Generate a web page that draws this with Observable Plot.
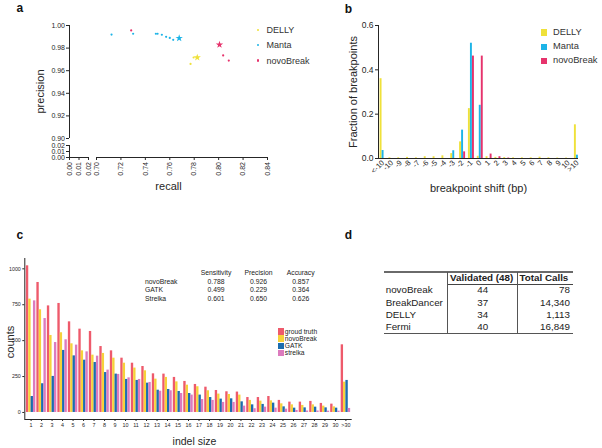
<!DOCTYPE html>
<html>
<head>
<meta charset="utf-8">
<script src="https://cdn.jsdelivr.net/npm/d3@7"></script>
<script src="https://cdn.jsdelivr.net/npm/@observablehq/plot@0.6"></script>
<style>
html,body{margin:0;padding:0;background:#fff;}
#root{position:relative;width:602px;height:448px;overflow:hidden;font-family:"Liberation Sans",Arial,Helvetica,sans-serif;color:#222;}
#root svg{position:absolute;overflow:visible;}
.t{position:absolute;white-space:nowrap;line-height:1;}
.ln{position:absolute;background:#555;}
</style>
</head>
<body>
<div id="root"></div>
<script>
// ---------------- Panel a data ----------------
const aTools = ["DELLY", "Manta", "novoBreak"];
const aColors = ["#EFE13A", "#1DB4E7", "#E6336C"];
const dellyRecall = [0.777, 0.7795];
const dellyPrecision = [0.966, 0.9717];
const mantaRecall = [0.7123, 0.730, 0.7486, 0.750, 0.7535, 0.757, 0.760, 0.7628];
const mantaPrecision = [0.992, 0.9927, 0.9927, 0.9927, 0.9918, 0.990, 0.989, 0.9873];
const novoRecall = [0.7284, 0.8037, 0.8083];
const novoPrecision = [0.9956, 0.9735, 0.969];
const starRecall = [0.7825, 0.7677, 0.8007];      // DELLY, Manta, novoBreak
const starPrecision = [0.9717, 0.9888, 0.983];
const aXTicks = [0, 0.01, 0.02, 0.70, 0.72, 0.74, 0.76, 0.78, 0.80, 0.82, 0.84];
const aYTicks = [0, 0.01, 0.02, 0.90, 0.92, 0.94, 0.96, 0.98, 1.00];
const aXSegments = [[0, 0.02], [0.70, 0.84]];
const aYSegments = [[0, 0.02], [0.90, 1.00]];

// ---------------- Panel b data ----------------
const bShift = ["<-10","-10","-9","-8","-7","-6","-5","-4","-3","-2","-1","0","1","2","3","4","5","6","7","8","9","10",">10"];
const bDelly = [0.36,0.003,0.003,0.005,0.003,0.008,0.008,0.012,0.022,0.075,0.225,0.01,0.008,0.005,0.004,0.003,0.003,0.003,0.006,0.003,0.002,0.002,0.152];
const bManta = [0.036,0,0,0,0,0,0,0,0.035,0.128,0.52,0.24,0,0,0,0,0,0,0,0,0,0,0.015];
const bNovo  = [0,0,0,0,0,0,0,0,0,0.03,0.462,0.462,0.02,0.008,0.002,0,0,0,0,0,0,0,0];
const bYTicks = [0, 0.2, 0.4, 0.6];

// ---------------- Panel c data ----------------
const cSizes = ["1","2","3","4","5","6","7","8","9","10","11","12","13","14","15","16","17","18","19","20","21","22","23","24","25","26","27","28","29","30",">30"];
const cSeries = ["groud truth", "novoBreak", "GATK", "strelka"];
const cColors = ["#EE5A6B", "#F6D23A", "#1B6DAF", "#DC7BBE"];
const cTruth   = [1021,905,742,759,631,580,564,459,429,378,343,320,269,267,244,216,195,176,153,144,142,104,104,111,84,72,72,77,63,58,471];
const cNovo    = [789,715,536,555,478,429,399,411,378,343,309,290,232,244,213,190,179,151,128,125,121,84,79,81,60,53,49,53,44,39,211];
const cGatk    = [111,200,251,432,394,364,348,278,267,230,223,204,155,160,146,132,121,104,93,95,74,53,56,65,39,30,32,37,32,30,223];
const cStrelka = [777,654,487,506,469,422,392,295,265,241,230,209,148,151,132,121,90,84,70,70,44,26,37,30,23,14,10,10,9,9,28];
const cYTicks = [0, 250, 500, 750, 1000];
const cStatHeaders = ["Sensitivity", "Precision", "Accuracy"];
const cStatTools = ["novoBreak", "GATK", "Strelka"];
const cSensitivity = ["0.788", "0.499", "0.601"];
const cPrecision = ["0.926", "0.229", "0.650"];
const cAccuracy = ["0.857", "0.364", "0.626"];

// ---------------- Panel d data ----------------
const dHeaders = ["", "Validated (48)", "Total Calls"];
const dTools = ["novoBreak", "BreakDancer", "DELLY", "Fermi"];
const dValidated = [44, 37, 34, 40];
const dTotal = [78, 14340, 1113, 16849];

// ---------------- helpers ----------------
const FONT = "'Liberation Sans', Arial, Helvetica, sans-serif";
const root = document.getElementById("root");
function put(el, left, top) {
  el.style.position = "absolute"; el.style.left = left + "px"; el.style.top = top + "px";
  root.appendChild(el); return el;
}
function label(txt, x, y, o = {}) {
  const d = document.createElement("div");
  d.className = "t"; d.textContent = txt;
  const ax = o.align === "center" ? "-50%" : o.align === "right" ? "-100%" : "0";
  d.style.left = x + "px"; d.style.top = y + "px";
  d.style.transform = `translate(${ax},-50%)`;
  d.style.fontSize = (o.size || 10) + "px";
  if (o.bold) d.style.fontWeight = "bold";
  d.style.color = o.color || "#222";
  root.appendChild(d); return d;
}
function box(x, y, w, h, color, radius) {
  const d = document.createElement("div");
  d.className = "ln";
  d.style.left = x + "px"; d.style.top = y + "px"; d.style.width = w + "px"; d.style.height = h + "px";
  d.style.background = color;
  if (radius) d.style.borderRadius = radius;
  root.appendChild(d); return d;
}
const baseStyle = {fontFamily: FONT, color: "#262626", background: "transparent", overflow: "visible"};

// ---------------- Panel a ----------------
const aPoints = [
  ...dellyRecall.map((r, i) => ({tool: "DELLY", recall: r, precision: dellyPrecision[i]})),
  ...mantaRecall.map((r, i) => ({tool: "Manta", recall: r, precision: mantaPrecision[i]})),
  ...novoRecall.map((r, i) => ({tool: "novoBreak", recall: r, precision: novoPrecision[i]}))
];
const aStars = aTools.map((t, i) => ({tool: t, recall: starRecall[i], precision: starPrecision[i]}));
const plotA = Plot.plot({
  width: 300, height: 220, marginLeft: 69, marginRight: 33, marginTop: 25, marginBottom: 63,
  style: baseStyle,
  x: {type: "linear", domain: [0, 0.02, 0.70, 0.84], range: [69, 88, 96, 267]},
  y: {type: "linear", domain: [0, 0.02, 0.90, 1.00], range: [157, 145, 138, 25]},
  color: {domain: aTools, range: aColors},
  marks: [
    Plot.ruleY(aXSegments, {y: 0, x1: d => d[0], x2: d => d[1], stroke: "#262626"}),
    Plot.ruleX(aYSegments, {x: 0, y1: d => d[0], y2: d => d[1], stroke: "#262626"}),
    Plot.axisY({ticks: aYTicks, tickFormat: ".2f", tickSize: 3, tickPadding: 1.5, fontSize: 7, label: null}),
    Plot.axisX({ticks: aXTicks, tickFormat: ".2f", tickSize: 3, tickPadding: 1.5, tickRotate: -90, fontSize: 7, label: null}),
    Plot.dot(aPoints, {x: "recall", y: "precision", fill: "tool", r: 1.1}),
    Plot.dot(aStars, {x: "recall", y: "precision", fill: "tool", symbol: "star", r: 2.3}),
    Plot.text(["precision"], {frameAnchor: "left", textAnchor: "middle", rotate: -90, dx: -29, fontSize: 11}),
    Plot.text(["recall"], {frameAnchor: "bottom", dy: 32, fontSize: 11})
  ]
});
put(plotA, 0, 0);
aTools.forEach((t, i) => {
  const cy = 30 + i * 15.3;
  box(257, cy - 1.2, 2.4, 2.4, aColors[i], "50%");
  label(t, 266.5, cy, {size: 9, color: "#333"});
});

// ---------------- Panel b ----------------
const bRows = bShift.flatMap((s, i) => [
  {shift: s, tool: "DELLY", value: bDelly[i]},
  {shift: s, tool: "Manta", value: bManta[i]},
  {shift: s, tool: "novoBreak", value: bNovo[i]}
]);
const bDims = {width: 302, height: 220, marginLeft: 78, marginRight: 24, marginTop: 25, marginBottom: 62};
const bAxes = Plot.plot({
  ...bDims, style: baseStyle,
  x: {domain: [0, 1], axis: null},
  y: {domain: [0, 0.6]},
  marks: [
    Plot.ruleY([0], {stroke: "#262626"}),
    Plot.ruleX([0], {stroke: "#262626"}),
    Plot.axisY({ticks: bYTicks, tickFormat: ".1f", tickSize: 3, tickPadding: 2, fontSize: 8.5, label: null}),
    Plot.text(["Fraction of breakpoints"], {frameAnchor: "left", textAnchor: "middle", rotate: -90, dx: -25, fontSize: 11}),
    Plot.text(["breakpoint shift (bp)"], {frameAnchor: "bottom", dy: 33, fontSize: 11})
  ]
});
put(bAxes, 300, 0);
const bBars = Plot.plot({
  ...bDims, style: baseStyle,
  fx: {domain: bShift, range: [79.5, 280], paddingInner: 0.3, paddingOuter: 0, round: false},
  x: {domain: aTools, axis: null, padding: 0.05, round: false},
  y: {domain: [0, 0.6], axis: null},
  color: {domain: aTools, range: aColors},
  marks: [
    Plot.barY(bRows, {fx: "shift", x: "tool", y: "value", fill: "tool"}),
    Plot.axisFx({anchor: "bottom", tickRotate: -45, tickSize: 0, tickPadding: 3, fontSize: 7.5, label: null})
  ]
});
put(bBars, 300, 0);
aTools.forEach((t, i) => {
  const cy = 32.7 + i * 14.2;
  box(540.7, cy - 3.3, 6.6, 6.6, aColors[i]);
  label(t, 553, cy, {size: 9.3, color: "#333"});
});

// ---------------- Panel c ----------------
const cValues = [cTruth, cNovo, cGatk, cStrelka];
const cRows = cSizes.flatMap((s, i) => cSeries.map((k, j) => ({size: s, series: k, count: cValues[j][i]})));
const cYDomain = [-49, 1072];
const cDims = {width: 360, height: 228, marginLeft: 24.3, marginRight: 8.3, marginTop: 38, marginBottom: 29};
const cAxes = Plot.plot({
  ...cDims, style: baseStyle,
  x: {domain: [0, 1], axis: null},
  y: {domain: cYDomain},
  marks: [
    Plot.ruleY([cYDomain[0]], {stroke: "#262626"}),
    Plot.ruleX([0], {stroke: "#262626"}),
    Plot.axisY({ticks: cYTicks, tickFormat: "d", tickSize: 2, tickPadding: 2, fontSize: 5.3, label: null}),
    Plot.text(["counts"], {frameAnchor: "left", textAnchor: "middle", rotate: -90, dx: -14.5, dy: 3, fontSize: 11}),
    Plot.text(["indel size"], {frameAnchor: "bottom", dx: 6, dy: 25, fontSize: 10.5})
  ]
});
put(cAxes, 0, 220);
const cBars = Plot.plot({
  ...cDims, style: baseStyle,
  fx: {domain: cSizes, paddingInner: 0.1, paddingOuter: 0.15, round: false},
  x: {domain: cSeries, axis: null, padding: 0, round: false},
  y: {domain: cYDomain, axis: null},
  color: {domain: cSeries, range: cColors},
  marks: [
    Plot.barY(cRows, {fx: "size", x: "series", y: "count", fill: "series"}),
    Plot.axisFx({anchor: "bottom", tickSize: 2, tickPadding: 1.5, fontSize: 5.4, label: null})
  ]
});
put(cBars, 0, 220);
// stats table
const cColX = [216, 258.5, 300.7];
const cStatCols = [cSensitivity, cPrecision, cAccuracy];
cStatHeaders.forEach((h, j) => label(h, cColX[j], 273.3, {size: 6.8, align: "center"}));
cStatTools.forEach((t, i) => {
  const cy = 281.7 + i * 8.65;
  label(t, 145, cy, {size: 6.8});
  cStatCols.forEach((col, j) => label(col[i], cColX[j], cy, {size: 6.8, align: "center"}));
});
// legend
cSeries.forEach((s, i) => {
  box(277.5, 328.2 + i * 7.2, 6, 6.6, cColors[i]);
  label(s, 284.8, 331.5 + i * 7.2, {size: 6.7});
});

// ---------------- Panel d (table) ----------------
const dLeft = 384, dRight = 572.7, dTop = 271.7, dHead = 284.3, dBottom = 333.3;
const dCol = [384, 447.3, 517.3];
box(dLeft, dTop - 1, dRight - dLeft, 2, "#6a6a6a");
box(dCol[1], dHead - 0.6, dRight - dCol[1], 1.3, "#444");
box(dLeft, dBottom - 0.7, dRight - dLeft, 1.5, "#555");
box(dCol[1] - 0.5, dTop, 1, dBottom - dTop, "#555");
box(dCol[2] - 0.5, dTop, 1, dBottom - dTop, "#555");
label(dHeaders[1], dCol[1] + 2.8, 278, {size: 9.8, bold: true});
label(dHeaders[2], dCol[2] + 2.2, 278, {size: 9.8, bold: true});
const fmtComma = d3.format(",");
dTools.forEach((t, i) => {
  const cy = 290.4 + i * 12.25;
  label(t, 385.7, cy, {size: 9.8});
  label(String(dValidated[i]), 482.7, cy, {size: 9.8, align: "center"});
  label(fmtComma(dTotal[i]), 570, cy, {size: 9.8, align: "right"});
});

// ---------------- panel letters ----------------
label("a", 16.5, 8.4, {size: 12, bold: true, color: "#111"});
label("b", 344.8, 9, {size: 12, bold: true, color: "#111"});
label("c", 16.5, 234.8, {size: 12, bold: true, color: "#111"});
label("d", 344.8, 234.7, {size: 12, bold: true, color: "#111"});
</script>
</body>
</html>
